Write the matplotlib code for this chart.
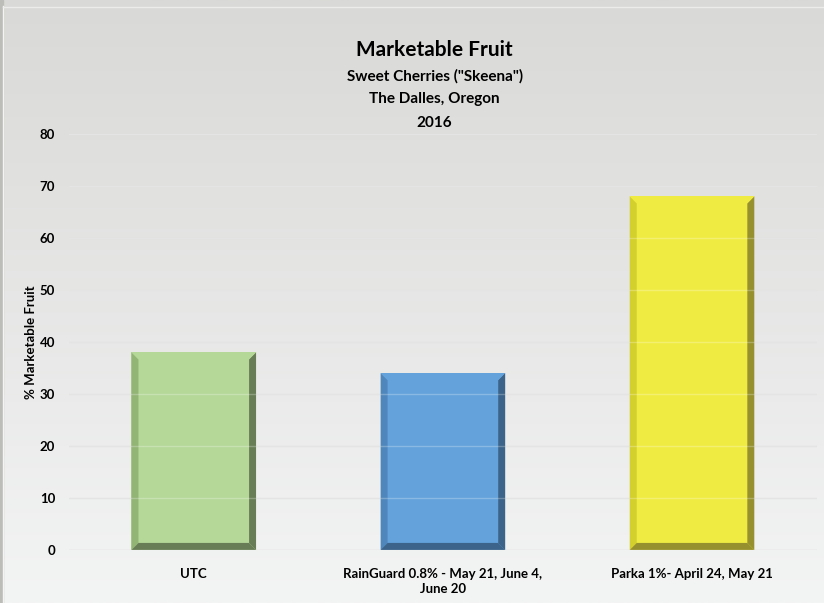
import numpy as np
import matplotlib
matplotlib.use("Agg")
import matplotlib.pyplot as plt
from matplotlib.patches import Polygon

plt.rcParams["font.family"] = ["Lato", "DejaVu Sans"]

categories = ["UTC", "RainGuard 0.8% - May 21, June 4,\nJune 20", "Parka 1%- April 24, May 21"]
values = [38, 34, 68]
face_colors = ["#b5d898", "#63a2da", "#efeb42"]
left_colors = ["#92b475", "#4f87bc", "#d3cf2c"]
dark_colors = ["#687d55", "#3c6389", "#96902f"]
yticks = [0, 10, 20, 30, 40, 50, 60, 70, 80]

fig = plt.figure(figsize=(8.24, 6.03), dpi=100)

# background gradient for the whole figure
bg = fig.add_axes([0, 0, 1, 1], zorder=-10)
grad = np.linspace(0, 1, 256).reshape(-1, 1)
cmap = matplotlib.colors.LinearSegmentedColormap.from_list("bg", ["#d9d9d7", "#f3f4f4"])
bg.imshow(grad, aspect="auto", cmap=cmap, extent=[0, 1, 0, 1], origin="upper")
bg.plot([0.004, 0.004], [0, 0.99], color="#f4f4f2", lw=1)
bg.plot([0.004, 1], [0.988, 0.988], color="#ecedeb", lw=1)
bg.axvspan(0, 0.004, color="#bcbdb8")
bg.set_xlim(0, 1)
bg.set_ylim(0, 1)
bg.axis("off")

ax = fig.add_axes([0.084, 0.088, 0.907, 0.69])
ax.patch.set_alpha(0)
x = np.arange(len(categories))
width = 0.5
bars = ax.bar(x, values, width=width, color=face_colors, zorder=2)

# bevel edges
bx = 0.028
by = 1.35
for i, b in enumerate(bars):
    x0 = b.get_x()
    x1 = x0 + b.get_width()
    h = b.get_height()
    ax.add_patch(Polygon([[x0, 0], [x0, h], [x0 + bx, h - by], [x0 + bx, by]],
                         closed=True, color=left_colors[i], lw=0, zorder=3))
    ax.add_patch(Polygon([[x1, 0], [x1, h], [x1 - bx, h - by], [x1 - bx, by]],
                         closed=True, color=dark_colors[i], lw=0, zorder=3))
    ax.add_patch(Polygon([[x0, 0], [x1, 0], [x1 - bx, by], [x0 + bx, by]],
                         closed=True, color=dark_colors[i], lw=0, zorder=3))
    ax.add_patch(Polygon([[x0, h], [x1, h], [x1 - bx, h - by], [x0 + bx, h - by]],
                         closed=True, color=face_colors[i], lw=0, zorder=3))

for t in yticks:
    ax.axhline(t, color="#dcdcdc", lw=1, zorder=1)
    ax.axhline(t, color="white", lw=1, alpha=0.25, zorder=4)

ax.set_xlim(-0.5, 2.5)
ax.set_ylim(0, 80)
ax.set_yticks(yticks)
ax.set_xticks(x)
ax.set_xticklabels(categories, fontsize=9.5, fontweight="bold", linespacing=1.3)
ax.tick_params(axis="both", length=0, labelsize=9.5)
ax.tick_params(axis="x", pad=13)
ax.tick_params(axis="y", pad=10)
for lbl in ax.get_yticklabels():
    lbl.set_fontweight("bold")
for s in ax.spines.values():
    s.set_visible(False)
ax.set_ylabel("% Marketable Fruit", fontsize=9.5, fontweight="bold", labelpad=2)

fig.text(0.5275, 0.917, "Marketable Fruit", ha="center", va="center", fontsize=15, fontweight="bold")
fig.text(0.5275, 0.874, 'Sweet Cherries ("Skeena")', ha="center", va="center", fontsize=11, fontweight="bold")
fig.text(0.5275, 0.835, "The Dalles, Oregon", ha="center", va="center", fontsize=11, fontweight="bold")
fig.text(0.5275, 0.796, "2016", ha="center", va="center", fontsize=11, fontweight="bold")

fig.savefig("out.png", dpi=100)
